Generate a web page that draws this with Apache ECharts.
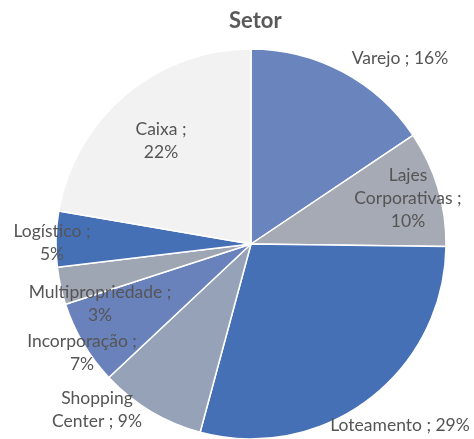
<!DOCTYPE html>
<html>
<head>
<meta charset="utf-8">
<script src="https://cdn.jsdelivr.net/npm/echarts@6/dist/echarts.min.js"></script>
<style>
  html, body { margin: 0; padding: 0; background: #fff; }
  #chart { width: 474px; height: 439px; }
</style>
</head>
<body>
<div id="chart"></div>
<script>
// sectors, clockwise from 12 o'clock
const sectors = ['Varejo', 'Lajes Corporativas', 'Loteamento', 'Shopping Center',
                 'Incorporação', 'Multipropriedade', 'Logístico', 'Caixa'];
const shares = [15.6, 9.6, 29.0, 8.8, 7.0, 3.1, 4.6, 22.3];

// label text as laid out in the original (line breaks)
const labelLines = [
    ['Varejo ; {p}'],
    ['Lajes', 'Corporativas ;', '{p}'],
    ['Loteamento ; {p}'],
    ['Shopping', 'Center ; {p}'],
    ['Incorporação ;', '{p}'],
    ['Multipropriedade ;', '{p}'],
    ['Logístico ;', '{p}'],
    ['Caixa ;', '{p}']
];

const colors = ['#6a84bd', '#a5aab4', '#4670b6', '#96a2b8', '#6a82bc', '#9ea5b3', '#4670b6', '#f2f2f2'];

// label anchor points (centre of each label block)
const labelPos = [
    [400, 58], [408, 198], [400, 425], [97, 410],
    [82, 353], [100, 304], [52, 243], [161, 141]
];

let chart = echarts.init(document.getElementById('chart'));

chart.setOption({
    animation: false,
    title: {
        text: 'Setor',
        left: 224,
        top: 5,
        textStyle: { fontFamily: 'Lato', fontSize: 22, fontWeight: 'bold', color: '#595959' }
    },
    series: [{
        type: 'pie',
        center: [251, 244],
        radius: 195,
        startAngle: 90,
        clockwise: true,
        avoidLabelOverlap: false,
        itemStyle: { borderColor: '#fff', borderWidth: 1.5 },
        label: {
            show: true,
            position: 'outside',
            overflow: 'none',
            fontFamily: 'Lato',
            fontSize: 17.5,
            lineHeight: 23,
            color: '#555555',
            align: 'center',
            formatter: p => labelLines[p.dataIndex]
                .map(l => l.replace('{p}', Math.round(p.percent) + '%')).join('\n')
        },
        labelLine: { show: false },
        labelLayout: p => ({
            x: labelPos[p.dataIndex][0],
            y: labelPos[p.dataIndex][1],
            align: 'center',
            verticalAlign: 'middle',
            hideOverlap: false,
            moveOverlap: null
        }),
        emphasis: { disabled: true },
        data: sectors.map((s, i) => ({
            name: s,
            value: shares[i],
            itemStyle: { color: colors[i] }
        }))
    }]
});
</script>
</body>
</html>
